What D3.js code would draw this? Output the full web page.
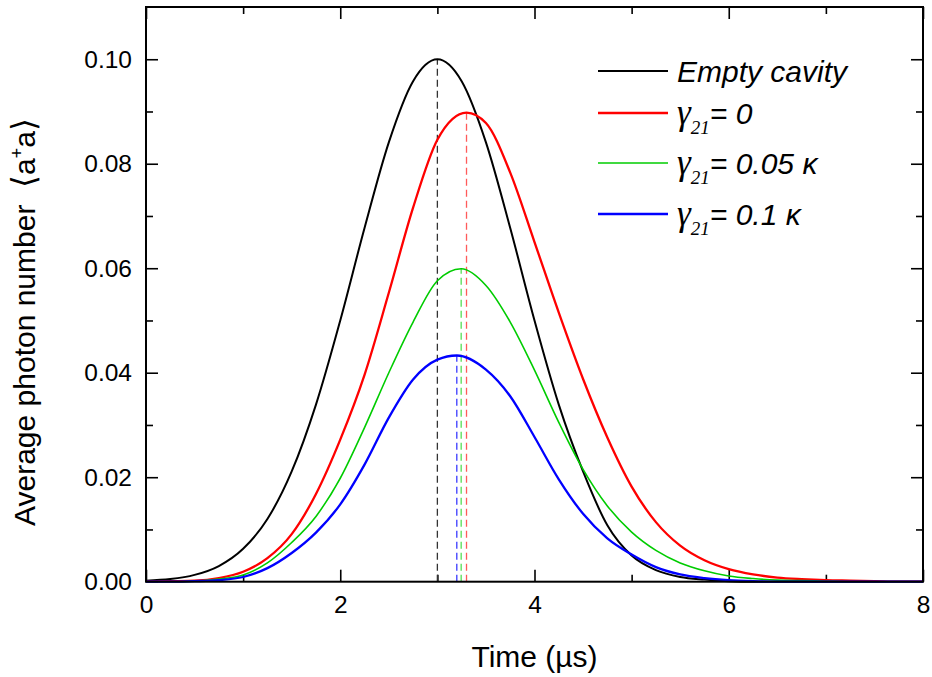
<!DOCTYPE html>
<html>
<head>
<meta charset="utf-8">
<script src="https://cdn.jsdelivr.net/npm/d3@7"></script>
<style>
  body { margin: 0; background: #fff; }
  svg { display: block; font-family: "Liberation Sans", Arial, sans-serif; }
</style>
</head>
<body>
<div id="chart"></div>
<script>
// time axis (µs) shared by all curves
const times = [0, 0.25, 0.5, 0.75, 1, 1.25, 1.5, 1.75, 2, 2.25, 2.5, 2.75, 3, 3.25, 3.5, 3.75,
  4, 4.25, 4.5, 4.75, 5, 5.25, 5.5, 5.75, 6, 6.25, 6.5, 6.75, 7, 7.25, 7.5, 7.75, 8];

// average photon number
const emptyCavity = [0.0002, 0.0005, 0.0013, 0.0030, 0.0063, 0.0120, 0.0211, 0.0339, 0.0500, 0.0677, 0.0841, 0.0958, 0.1000, 0.0958, 0.0841, 0.0677,
  0.0500, 0.0339, 0.0211, 0.0108, 0.0050, 0.0022, 0.0009, 0.0004, 0.0001, 0, 0, 0, 0, 0, 0, 0, 0];
const gamma0 = [0, 0.0001, 0.0002, 0.0007, 0.0019, 0.0045, 0.0091, 0.0168, 0.0272, 0.0396, 0.0553, 0.0716, 0.0846, 0.0896, 0.0878, 0.0783,
  0.0650, 0.0515, 0.0388, 0.0276, 0.0182, 0.0114, 0.0069, 0.0041, 0.0024, 0.0014, 0.0008, 0.0005, 0.0003, 0.0002, 0.0001, 0, 0];
const gamma005 = [0, 0, 0.0001, 0.0005, 0.0013, 0.0036, 0.0075, 0.0125, 0.0198, 0.0295, 0.0400, 0.0497, 0.0576, 0.0599, 0.0567, 0.0497,
  0.0405, 0.0305, 0.0215, 0.0145, 0.0095, 0.0060, 0.0036, 0.0021, 0.0011, 0.0006, 0.0003, 0.0002, 0.0001, 0, 0, 0, 0];
const gamma01 = [0, 0, 0.0001, 0.0003, 0.0009, 0.0026, 0.0055, 0.0094, 0.0148, 0.0224, 0.0314, 0.0387, 0.0425, 0.0432, 0.0406, 0.0355,
  0.0277, 0.0196, 0.0130, 0.0083, 0.0052, 0.0028, 0.0014, 0.0007, 0.0003, 0.0001, 0, 0, 0, 0, 0, 0, 0];

// peak positions (marked by the dashed lines)
const peakTimes = [3.0, 3.30, 3.245, 3.20];
const peakValues = [0.1000, 0.0898, 0.0599, 0.0433];

const seriesNames = ["Empty cavity", "γ21= 0", "γ21= 0.05 κ", "γ21= 0.1 κ"];
const seriesValues = [emptyCavity, gamma0, gamma005, gamma01];
const legendRest = [null, "= 0", "= 0.05 κ", "= 0.1 κ"];

const xTicks = [0, 2, 4, 6, 8];
const yTicks = [0, 0.02, 0.04, 0.06, 0.08, 0.10];

const colors = ["#000000", "#ff0000", "#00cc00", "#0000ff"];
const dashColors = ["#333333", "#ff5a5a", "#55dd55", "#3a3aff"];
const widths = [2, 2.3, 1.6, 2.3];

const width = 932, height = 677;
const margin = { left: 146, top: 7, right: 9, bottom: 95.3 };
const innerW = width - margin.left - margin.right;
const innerH = height - margin.top - margin.bottom;

const svg = d3.select("#chart").append("svg")
  .attr("width", width)
  .attr("height", height);

const g = svg.append("g").attr("transform", `translate(${margin.left},${margin.top})`);

const x = d3.scaleLinear().domain([0, 8]).range([0, innerW]);
const y = d3.scaleLinear().domain([0, 0.11]).range([innerH, 0]);

// axes, all ticks pointing inward
const styleAxis = (sel) => {
  sel.select(".domain").remove();
  sel.selectAll(".tick line").attr("stroke", "#000").attr("stroke-width", 1.6);
  sel.selectAll(".tick text").attr("fill", "#000").attr("font-size", 24.5)
    .attr("font-family", "'Liberation Sans', Arial, sans-serif");
};

g.append("g").attr("transform", `translate(0,${innerH})`)
  .call(d3.axisBottom(x).tickValues(xTicks).tickFormat(d3.format("d")).tickSize(-12).tickPadding(14))
  .call(styleAxis);
g.append("g").attr("transform", `translate(0,${innerH})`)
  .call(d3.axisBottom(x).tickValues([1, 3, 5, 7]).tickFormat("").tickSize(-7))
  .call(styleAxis);
g.append("g")
  .call(d3.axisTop(x).tickValues(xTicks).tickFormat("").tickSize(-12))
  .call(styleAxis);
g.append("g")
  .call(d3.axisTop(x).tickValues([1, 3, 5, 7]).tickFormat("").tickSize(-7))
  .call(styleAxis);

g.append("g")
  .call(d3.axisLeft(y).tickValues(yTicks).tickFormat(d3.format(".2f")).tickSize(-12).tickPadding(14))
  .call(styleAxis);
g.append("g")
  .call(d3.axisLeft(y).tickValues([0.01, 0.03, 0.05, 0.07, 0.09]).tickFormat("").tickSize(-7))
  .call(styleAxis);
g.append("g").attr("transform", `translate(${innerW},0)`)
  .call(d3.axisRight(y).tickValues(yTicks).tickFormat("").tickSize(-12))
  .call(styleAxis);
g.append("g").attr("transform", `translate(${innerW},0)`)
  .call(d3.axisRight(y).tickValues([0.01, 0.03, 0.05, 0.07, 0.09]).tickFormat("").tickSize(-7))
  .call(styleAxis);

// dashed lines at each peak
g.append("g").selectAll("line")
  .data(peakTimes)
  .join("line")
  .attr("x1", (d) => x(d))
  .attr("x2", (d) => x(d))
  .attr("y1", y(0))
  .attr("y2", (d, i) => y(peakValues[i]))
  .attr("stroke", (d, i) => dashColors[i])
  .attr("stroke-width", 1.3)
  .attr("stroke-dasharray", "7,4");

// curves: table points plus the peak point
const line = d3.line()
  .x((d) => x(d[0]))
  .y((d) => y(d[1]))
  .curve(d3.curveMonotoneX);

const curveData = seriesValues.map((vals, i) => {
  const pts = times.map((t, j) => [t, vals[j]])
    .filter((p) => Math.abs(p[0] - peakTimes[i]) > 0.06);
  pts.push([peakTimes[i], peakValues[i]]);
  return pts.sort((a, b) => a[0] - b[0]);
});

g.append("g").selectAll("path")
  .data(curveData)
  .join("path")
  .attr("fill", "none")
  .attr("stroke", (d, i) => colors[i])
  .attr("stroke-width", (d, i) => widths[i])
  .attr("stroke-linejoin", "round")
  .attr("d", line);

// frame
g.append("rect")
  .attr("width", innerW)
  .attr("height", innerH)
  .attr("fill", "none")
  .attr("stroke", "#000")
  .attr("stroke-width", 2);

// legend
const legendY = [71, 113, 163, 214];
const legend = svg.append("g");
seriesNames.forEach((name, i) => {
  legend.append("line")
    .attr("x1", 598).attr("x2", 668)
    .attr("y1", legendY[i]).attr("y2", legendY[i])
    .attr("stroke", colors[i])
    .attr("stroke-width", widths[i]);
  const txt = legend.append("text")
    .attr("x", 677)
    .attr("y", legendY[i] + 10.5)
    .attr("font-size", 30)
    .attr("font-style", "italic")
    .attr("fill", "#000");
  if (i === 0) {
    txt.text(name);
  } else {
    txt.append("tspan")
      .style("font-family", "'Liberation Serif', 'DejaVu Serif', serif")
      .attr("font-size", 35)
      .text("γ");
    txt.append("tspan")
      .style("font-family", "'Liberation Serif', 'DejaVu Serif', serif")
      .attr("font-size", 19)
      .attr("dx", 0)
      .attr("dy", 10)
      .text("21");
    txt.append("tspan")
      .attr("dy", -10)
      .attr("dx", 0)
      .text(legendRest[i]);
  }
});

// axis titles
svg.append("text")
  .attr("x", x(4) + margin.left)
  .attr("y", 667)
  .attr("text-anchor", "middle")
  .attr("font-size", 30)
  .text("Time (µs)");

const yTitle = svg.append("text")
  .attr("transform", "translate(35,322) rotate(-90)")
  .attr("text-anchor", "middle")
  .attr("font-size", 30)
  .style("white-space", "pre");
yTitle.append("tspan").text("Average photon number  ");
yTitle.append("tspan").attr("font-size", 33).text("⟨");
yTitle.append("tspan").text("a");
yTitle.append("tspan").attr("font-size", 18).attr("dy", -12).text("+");
yTitle.append("tspan").attr("dy", 12).text("a");
yTitle.append("tspan").attr("font-size", 33).text("⟩");
</script>
</body>
</html>
